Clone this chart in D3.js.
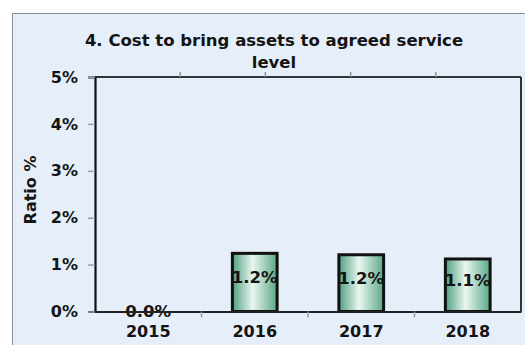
<!DOCTYPE html>
<html>
<head>
<meta charset="utf-8">
<script src="https://cdn.jsdelivr.net/npm/d3@7"></script>
<style>
  html, body { margin: 0; padding: 0; background: #ffffff; }
  svg { display: block; }
  text { font-family: "DejaVu Sans", Verdana, sans-serif; font-weight: bold; fill: #141414; }
</style>
</head>
<body>
<svg id="chart" width="525" height="345"></svg>
<script>
// Chart data
const years = ["2015", "2016", "2017", "2018"];
const ratios = [0.0, 1.24, 1.21, 1.12];   // percent
const yTicks = [0, 1, 2, 3, 4, 5];
const titleLines = ["4. Cost to bring assets to agreed service", "level"];
const yAxisTitle = "Ratio %";

const svg = d3.select("#chart");
const W = 525, H = 345;
const plot = { left: 95, right: 521, top: 77, bottom: 311.5 };

// Bar fill: horizontal green sheen
const defs = svg.append("defs");
const grad = defs.append("linearGradient").attr("id", "barFill")
  .attr("x1", "0%").attr("x2", "100%").attr("y1", "0%").attr("y2", "0%");
grad.append("stop").attr("offset", "0%").attr("stop-color", "#4f9f80");
grad.append("stop").attr("offset", "45%").attr("stop-color", "#eaf6f0");
grad.append("stop").attr("offset", "100%").attr("stop-color", "#5aa887");

// Chart area background with light frame
svg.append("rect")
  .attr("x", 12.5).attr("y", 13.5)
  .attr("width", W).attr("height", H)
  .attr("fill", "#e6eff9")
  .attr("stroke", "#8a8f96").attr("stroke-width", 1);

// Scales
const x = d3.scaleBand().domain(years).range([plot.left, plot.right])
  .paddingInner(0.58).paddingOuter(0.29);
const xBands = d3.scaleBand().domain(years).range([plot.left, plot.right]);
const y = d3.scaleLinear().domain([0, 5]).range([plot.bottom, plot.top]);
const xTop = d3.scaleLinear().domain([0, 5]).range([plot.left, plot.right]);

// Title
svg.append("text")
  .attr("text-anchor", "middle")
  .attr("font-size", 16.5)
  .selectAll("tspan").data(titleLines).join("tspan")
  .attr("x", 274).attr("y", (d, i) => 46 + i * 22)
  .text(d => d);

// Plot frame: top and right lines
svg.append("line")
  .attr("x1", plot.left).attr("x2", plot.right)
  .attr("y1", plot.top).attr("y2", plot.top)
  .attr("stroke", "#2f3438").attr("stroke-width", 2);
svg.append("line")
  .attr("x1", plot.right).attr("x2", plot.right)
  .attr("y1", plot.top).attr("y2", plot.bottom)
  .attr("stroke", "#2f3438").attr("stroke-width", 2);

// Small upward ticks on the top frame
svg.append("g").selectAll("line").data(d3.range(1, 5)).join("line")
  .attr("x1", d => xTop(d)).attr("x2", d => xTop(d))
  .attr("y1", plot.top).attr("y2", plot.top - 5)
  .attr("stroke", "#8c9298").attr("stroke-width", 1.5);

// Y axis
const yAxis = svg.append("g").attr("transform", `translate(${plot.left},0)`)
  .call(d3.axisLeft(y).tickValues(yTicks).tickFormat(d => d + "%").tickSize(7).tickPadding(10));
yAxis.select(".domain").attr("stroke", "#111").attr("stroke-width", 2.2);
yAxis.selectAll(".tick line").attr("stroke", "#9aa0a6").attr("stroke-width", 1.5);
yAxis.selectAll(".tick text")
  .attr("font-size", 16).attr("font-family", "DejaVu Sans, sans-serif")
  .attr("font-weight", "bold").attr("fill", "#141414");

// Y axis title
svg.append("text")
  .attr("transform", "translate(36,190) rotate(-90)")
  .attr("text-anchor", "middle")
  .attr("font-size", 16)
  .text(yAxisTitle);

const rows = years.map((yr, i) => ({ yr, v: ratios[i] }));

// Bars
const bars = svg.append("g");
bars.selectAll("rect").data(rows).join("rect")
  .attr("x", d => x(d.yr))
  .attr("y", d => y(d.v))
  .attr("width", x.bandwidth())
  .attr("height", d => y(0) - y(d.v))
  .attr("fill", "url(#barFill)");

// Value labels (a zero bar's label sits on the axis line)
svg.append("g").selectAll("text").data(rows).join("text")
  .attr("x", d => x(d.yr) + x.bandwidth() / 2)
  .attr("y", d => (y(d.v) + y(0)) / 2 - (d.v > 0 ? 5 : 0))
  .attr("dy", "0.35em")
  .attr("text-anchor", "middle")
  .attr("font-size", 16.5)
  .text(d => d3.format(".1f")(d.v) + "%");

// Bar outlines drawn over labels
svg.append("g").selectAll("rect").data(rows.filter(d => d.v > 0)).join("rect")
  .attr("x", d => x(d.yr))
  .attr("y", d => y(d.v))
  .attr("width", x.bandwidth())
  .attr("height", d => y(0) - y(d.v))
  .attr("fill", "none")
  .attr("stroke", "#111").attr("stroke-width", 3);

// X axis
const xAxis = svg.append("g").attr("transform", `translate(0,${plot.bottom})`)
  .call(d3.axisBottom(x).tickSize(0).tickPadding(14));
xAxis.select(".domain").attr("stroke", "#222").attr("stroke-width", 2.2);
xAxis.selectAll(".tick text")
  .attr("font-size", 16).attr("font-family", "DejaVu Sans, sans-serif")
  .attr("font-weight", "bold").attr("fill", "#141414");

// Category boundary ticks below the axis
svg.append("g").selectAll("line").data(years.slice(1)).join("line")
  .attr("x1", d => xBands(d)).attr("x2", d => xBands(d))
  .attr("y1", plot.bottom).attr("y2", plot.bottom + 6)
  .attr("stroke", "#9aa0a6").attr("stroke-width", 1.5);
</script>
</body>
</html>
